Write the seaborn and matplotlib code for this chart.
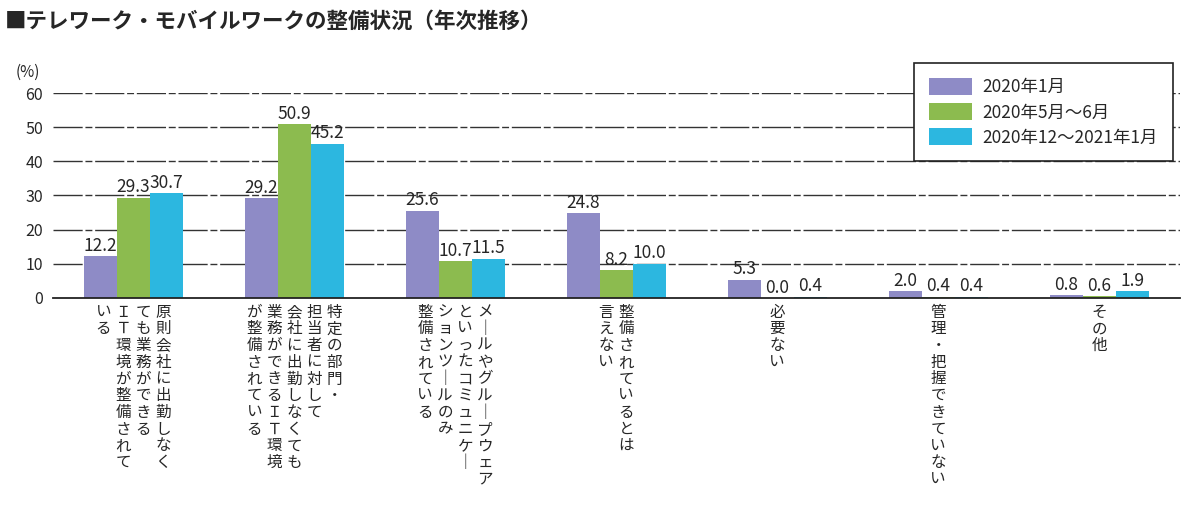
import matplotlib
matplotlib.use("Agg")
import matplotlib.pyplot as plt
import seaborn as sns
import pandas as pd

# ---- data ----
title = "■テレワーク・モバイルワークの整備状況（年次推移）"
series = ["2020年1月", "2020年5月～6月", "2020年12～2021年1月"]
category_columns = [
    ["原則会社に出勤しなく", "ても業務ができる", "ＩＴ環境が整備されて", "いる"],
    ["特定の部門・", "担当者に対して", "会社に出勤しなくても", "業務ができるＩＴ環境", "が整備されている"],
    ["メールやグループウェア", "といったコミュニケー", "ションツールのみ", "整備されている"],
    ["整備されているとは", "言えない"],
    ["必要ない"],
    ["管理・把握できていない"],
    ["その他"],
]
categories = ["".join(c) for c in category_columns]
values_jan2020 = [12.2, 29.2, 25.6, 24.8, 5.3, 2.0, 0.8]
values_may2020 = [29.3, 50.9, 10.7, 8.2, 0.0, 0.4, 0.6]
values_dec2020 = [30.7, 45.2, 11.5, 10.0, 0.4, 0.4, 1.9]
colors = ["#8E8BC6", "#8CBB4F", "#2CB7E0"]
yticks = [0, 10, 20, 30, 40, 50, 60]

rows = []
for s, vals in zip(series, [values_jan2020, values_may2020, values_dec2020]):
    for c, v in zip(categories, vals):
        rows.append({"category": c, "series": s, "value": v})
df = pd.DataFrame(rows)

# ---- style ----
sns.set_style("white")
plt.rcParams["font.family"] = ["Noto Sans CJK JP", "DejaVu Sans"]

fig = plt.figure(figsize=(12, 5.15), dpi=100)
ax = fig.add_axes([0.044, 0.4214, 0.939, 0.398])

sns.barplot(data=df, x="category", y="value", hue="series", order=categories,
            hue_order=series, palette=colors, saturation=1, width=0.615,
            linewidth=0, ax=ax, legend=True)

ax.set_ylim(0, 60)
ax.set_xlim(-0.5, 6.5)
ax.set_yticks(yticks)
ax.set_yticklabels([str(t) for t in yticks], fontsize=11.5)
ax.tick_params(axis="y", length=0, pad=7)
ax.tick_params(axis="x", length=0)
ax.set_xticks(range(len(categories)))
ax.set_xticklabels([""] * len(categories))
ax.set_xlabel("")
ax.set_ylabel("")

for side in ["left", "right", "top"]:
    ax.spines[side].set_visible(False)
ax.spines["bottom"].set_color("#222222")
ax.spines["bottom"].set_linewidth(1.3)

ax.set_axisbelow(True)
for t in yticks[1:]:
    ax.axhline(t, color="#333333", linewidth=1.0, dashes=(21, 2, 5, 2), zorder=0)

for cont in ax.containers:
    ax.bar_label(cont, fmt="%.1f", padding=1, fontsize=12.5)

# vertical category labels (columns right-to-left)
def vert(s):
    return "\n".join("｜" if ch == "ー" else ch for ch in s)

col_step = 14.4
for i, cols in enumerate(category_columns):
    n = len(cols)
    for k, col in enumerate(cols):
        dx = ((n - 1) / 2 - k) * col_step
        ax.annotate(vert(col), xy=(i, 0), xycoords=("data", "axes fraction"),
                    xytext=(dx, -4), textcoords="offset points",
                    ha="center", va="top", fontsize=11.2, linespacing=0.98)

# legend
handles, labels = ax.get_legend_handles_labels()
if ax.get_legend() is not None:
    ax.get_legend().remove()
leg = ax.legend(handles, labels, loc="upper right", bbox_to_anchor=(0.994, 1.146),
                borderaxespad=0, fontsize=12.5, frameon=True, fancybox=False,
                framealpha=1, edgecolor="#222222", handlelength=2.5,
                handleheight=1.15, labelspacing=0.38, borderpad=0.85,
                handletextpad=0.6)
leg.get_frame().set_linewidth(1.2)

fig.text(0.013, 0.86, "(%)", fontsize=11, ha="left", va="center")
fig.text(0.004, 0.958, title, fontsize=15.5, fontweight="bold", ha="left", va="center")

fig.savefig("out.png", dpi=100)
